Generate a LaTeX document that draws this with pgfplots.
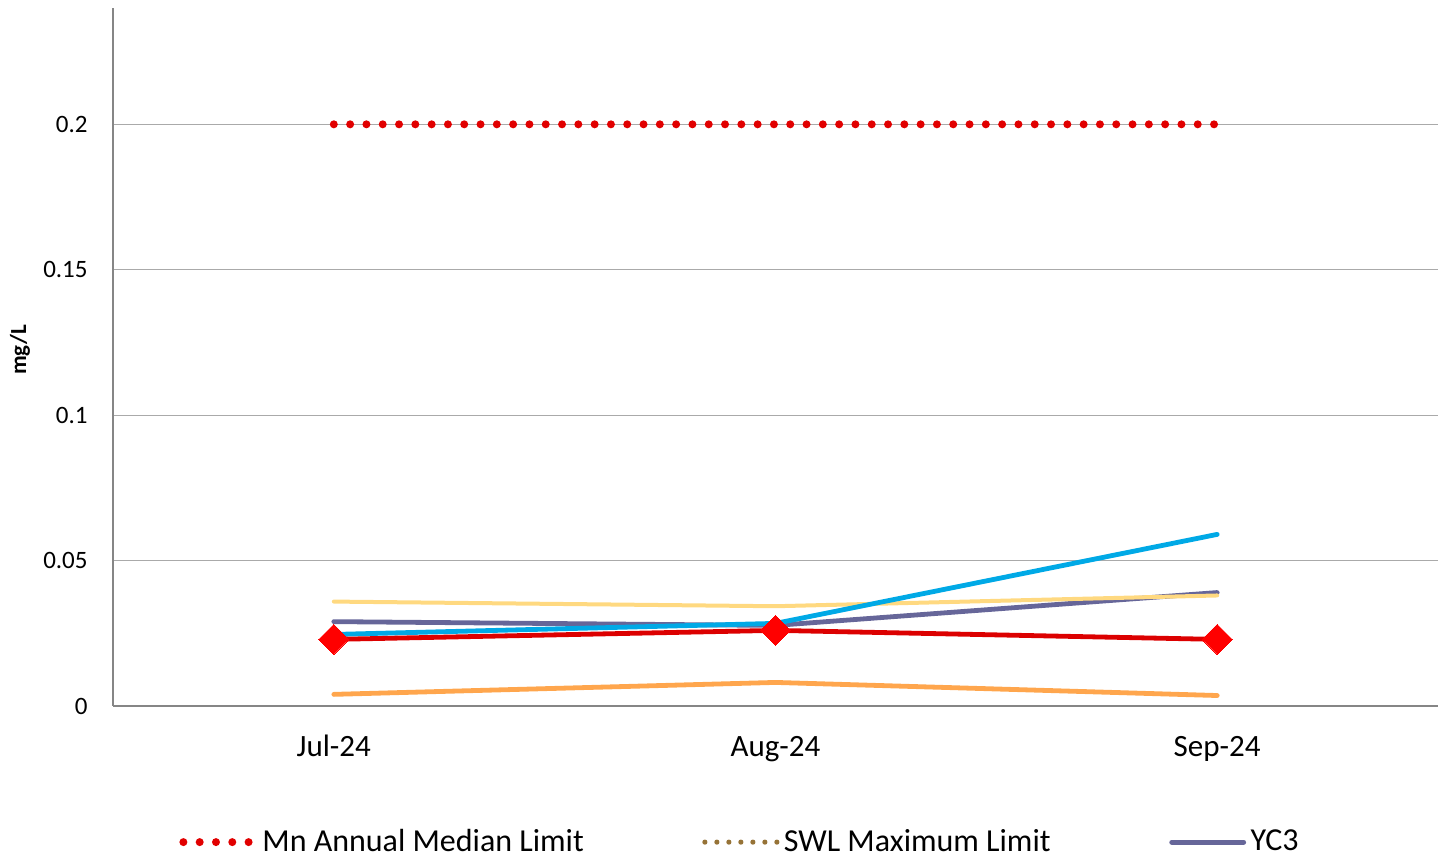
\documentclass[border=0pt]{standalone}
\usepackage{pgfplots}
\pgfplotsset{compat=1.18}
\usepackage{fontspec}
\setmainfont{Carlito}

\definecolor{limitred}{RGB}{225,0,0}
\definecolor{swlbrown}{RGB}{150,115,55}
\definecolor{yctpurple}{RGB}{102,102,153}
\definecolor{lineblue}{RGB}{0,169,230}
\definecolor{lineyellow}{RGB}{255,217,128}
\definecolor{lineorange}{RGB}{255,166,77}
\definecolor{linered}{RGB}{220,0,0}
\definecolor{gridgray}{RGB}{170,170,170}
\definecolor{axisgray}{RGB}{134,134,134}

\begin{document}
\begin{tikzpicture}
\begin{axis}[
  name=ax,
  scale only axis,
  width=662.5pt, height=349pt,
  xmin=-0.5, xmax=2.5,
  ymin=0, ymax=0.24,
  axis x line=bottom, axis y line=left,
  axis line style={-, axisgray, line width=0.6pt},
  xtick={0,1,2},
  xticklabels={Jul-24,Aug-24,Sep-24},
  ytick={0,0.05,0.1,0.15,0.2},
  yticklabels={0,0.05,0.1,0.15,0.2},
  major tick length=0pt,
  ymajorgrids,
  grid style={gridgray, line width=0.5pt},
  /pgf/number format/assume math mode=true,
  xticklabel style={font=\fontsize{15.5}{18}\selectfont, anchor=base, inner sep=0pt, yshift=-25.4pt},
  yticklabel style={font=\fontsize{12.5}{15}\selectfont, anchor=east, inner sep=0pt, xshift=-12.5pt},
  ylabel={mg/L},
  ylabel style={font=\fontsize{11.5}{13}\selectfont\bfseries, at={(axis description cs:-0.0702,0.51)}, anchor=center},
  legend columns=3,
  legend style={
    at={(axis description cs:0.0498,-0.195)}, anchor=west,
    draw=none, fill=none, inner sep=0pt,
    font=\fontsize{16}{19}\selectfont,
    nodes={inner sep=0pt},
    cells={anchor=west},
    /tikz/every odd column/.append style={column sep=1.5pt},
    /tikz/every even column/.append style={column sep=58.5pt},
  },
  % every legend sample gets the same fixed footprint
  legend image code/.code={%
    \path[draw=none, fill=none] (-2pt,-2pt) rectangle (38pt,2pt);
    \draw[#1] (0pt,0pt) -- (36pt,0pt);},
  every axis plot/.append style={line cap=round, line join=round},
]

% Manganese annual median limit
\addplot[limitred, line width=4pt, dash pattern=on 0pt off 8.15pt, line cap=round]
  coordinates {(0,0.2) (2,0.2)};
\addlegendentry{Mn Annual Median Limit}

% SWL maximum limit (above the plotted range)
\addlegendimage{swlbrown, line width=2.6pt, dash pattern=on 0pt off 6pt, line cap=round}
\addlegendentry{SWL Maximum Limit}

% YC3
\addplot[yctpurple, line width=2.4pt]
  coordinates {(0,0.0290) (1,0.0277) (2,0.0390)};
\addlegendentry{YC3}

\addplot[forget plot, lineorange, line width=2.4pt]
  coordinates {(0,0.0040) (1,0.0081) (2,0.0036)};

\addplot[forget plot, lineyellow, line width=2pt]
  coordinates {(0,0.0359) (1,0.0343) (2,0.0380)};

\addplot[forget plot, lineblue, line width=2.4pt]
  coordinates {(0,0.0246) (1,0.0284) (2,0.0590)};

\addplot[forget plot, linered, line width=2.4pt,
  mark=square*, mark size=5.3pt,
  mark options={solid, fill=red, draw=red, line width=0pt, rotate=45}]
  coordinates {(0,0.0229) (1,0.0260) (2,0.0229)};

\end{axis}
\pgfresetboundingbox
\path[use as bounding box] ([xshift=-56.5pt,yshift=-76.5pt]ax.south west) rectangle ([xshift=6pt,yshift=4pt]ax.north east);
\end{tikzpicture}
\end{document}
